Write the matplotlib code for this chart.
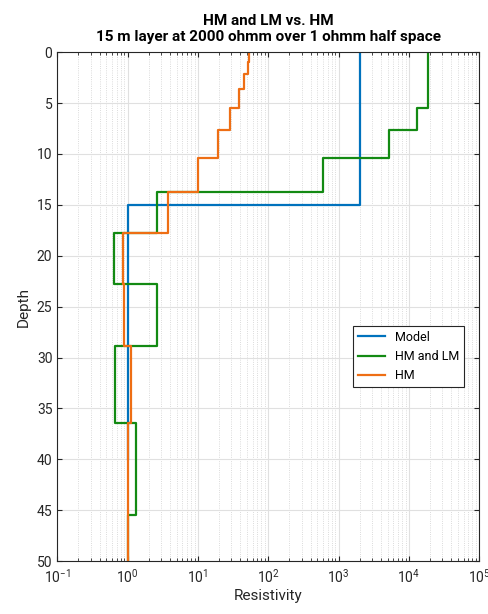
import matplotlib
matplotlib.use("Agg")
import matplotlib.pyplot as plt
import numpy as np

model_tops = [0, 15]
model_bottom = 40
model_rho = [2000, 1]

hmlm_tops = [0, 3.6, 5.47, 7.66, 10.38, 13.7, 17.75, 22.8, 28.9, 36.4, 45.5]
hmlm_bottom = 50
hmlm_rho = [19000, 18500, 13000, 5300, 600, 2.6, 0.65, 2.6, 0.67, 1.32, 1.0]

hm_tops = [0, 0.95, 2.1, 3.6, 5.47, 7.66, 10.38, 13.7, 17.75, 22.8, 28.9, 36.4, 45.5]
hm_bottom = 50
hm_rho = [54, 52, 46, 38, 29, 19.4, 10.2, 3.75, 0.86, 0.9, 1.13, 1.03, 1.0]

def steps(tops, bottom, rho):
    bounds = list(tops) + [bottom]
    xs, ys = [], []
    for i, r in enumerate(rho):
        xs += [r, r]
        ys += [bounds[i], bounds[i + 1]]
    return xs, ys

plt.rcParams['font.family'] = ['Roboto', 'DejaVu Sans']
fig = plt.figure(figsize=(4.89, 6.14), dpi=100)
ax = fig.add_axes([0.117, 0.086, 0.863, 0.829])

for (t, b, r, c, lab) in [(model_tops, model_bottom, model_rho, '#0072BD', 'Model'),
                          (hmlm_tops, hmlm_bottom, hmlm_rho, '#138A13', 'HM and LM'),
                          (hm_tops, hm_bottom, hm_rho, '#EE6E14', 'HM')]:
    x, y = steps(t, b, r)
    ax.plot(x, y, color=c, lw=1.6, label=lab)

ax.set_xscale('log')
ax.set_xlim(0.1, 1e5)
ax.set_ylim(50, 0)
ax.set_yticks(np.arange(0, 51, 5))
ax.grid(True, which='major', color='#e0e0e0', lw=0.8)
ax.grid(True, which='minor', axis='x', color='#cfcfcf', lw=0.6, ls=':')
ax.tick_params(which='both', direction='in', top=True, right=True, labelsize=10, colors='#262626')
ax.tick_params(axis='x', which='major', pad=5)
for s in ax.spines.values():
    s.set_color('#262626'); s.set_linewidth(0.8)
ax.set_xlabel('Resistivity', fontsize=11, color='#262626', labelpad=2)
ax.set_ylabel('Depth', fontsize=11, color='#262626')
ax.set_title('HM and LM vs. HM\n15 m layer at 2000 ohmm over 1 ohmm half space',
             fontsize=11, fontweight='bold', color='#000000', pad=8)
leg = ax.legend(loc='upper left', bbox_to_anchor=(0.685, 0.475), fontsize=9,
                fancybox=False, edgecolor='#262626', framealpha=1, handlelength=2.2)
leg.get_frame().set_linewidth(0.8)
fig.savefig('out.png', dpi=100)
